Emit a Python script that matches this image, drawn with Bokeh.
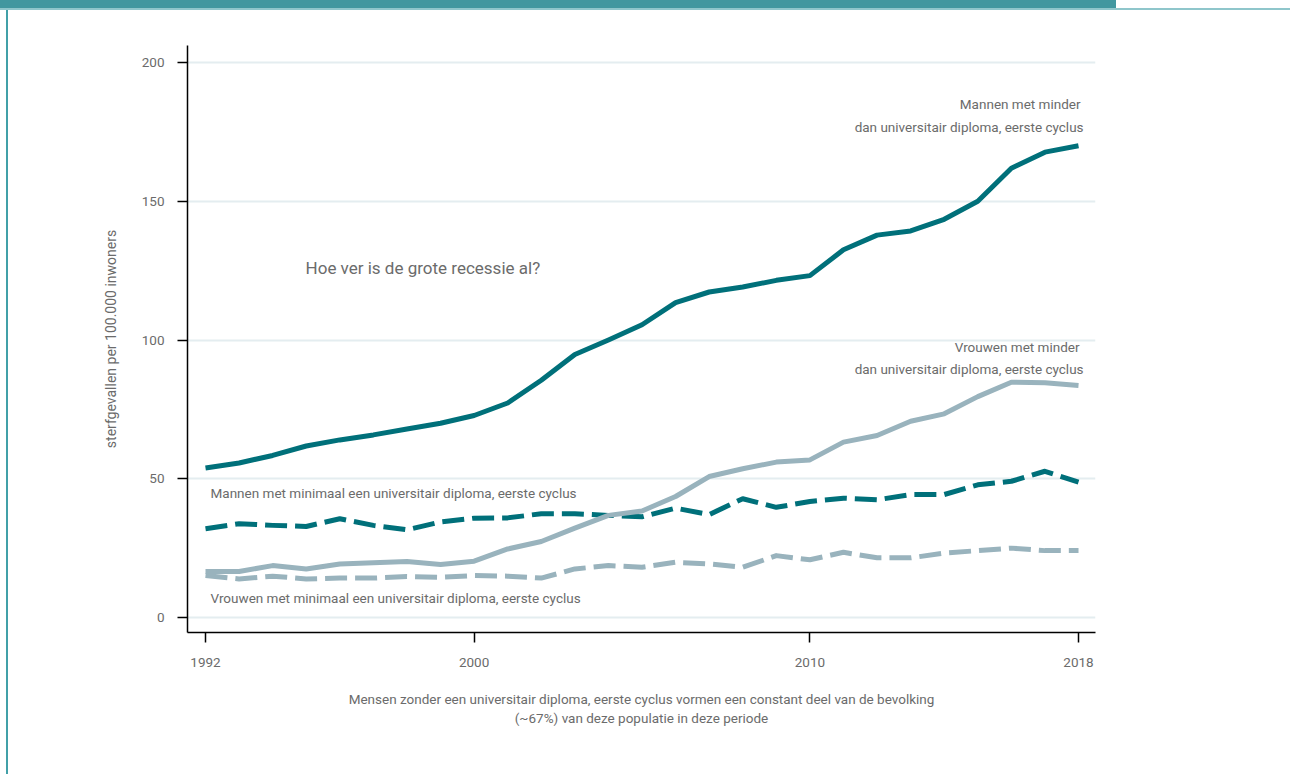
from bokeh.plotting import figure
from bokeh.models import Range1d, FixedTicker, Label
from bokeh.embed import file_html
from bokeh.resources import INLINE

years = list(range(1992, 2019))
men_low = [53.9, 55.7, 58.4, 61.8, 64.0, 65.8, 67.9, 70.0, 72.8, 77.3, 85.5, 94.8, 100.0, 105.5,
           113.5, 117.3, 119.1, 121.5, 123.2, 132.5, 137.8, 139.3, 143.5, 150.0, 161.9, 167.7, 170.0]
men_high = [32.0, 33.8, 33.2, 32.8, 35.6, 33.2, 31.6, 34.4, 35.8, 35.9, 37.4, 37.4, 36.8, 36.3,
            39.4, 37.1, 42.8, 39.7, 41.8, 43.0, 42.4, 44.3, 44.3, 47.8, 49.1, 52.7, 48.8]
women_low = [16.6, 16.6, 18.7, 17.5, 19.3, 19.7, 20.2, 19.1, 20.3, 24.7, 27.4, 32.2, 36.8, 38.4,
             43.6, 50.8, 53.6, 56.0, 56.8, 63.2, 65.6, 70.7, 73.4, 79.6, 84.8, 84.6, 83.6]
women_high = [15.1, 13.9, 14.9, 13.9, 14.2, 14.2, 14.8, 14.5, 15.1, 14.9, 14.2, 17.5, 18.7, 18.1,
              19.9, 19.3, 18.1, 22.3, 20.8, 23.5, 21.5, 21.5, 23.2, 24.1, 25.0, 24.1, 24.1]
x_ticks = [1992, 2000, 2010, 2018]
y_ticks = [0, 50, 100, 150, 200]

TEAL = "#00707a"
GREY = "#99b3bd"
TXT = "#6b6b6b"
FONT = "Roboto"

deco = ("linear-gradient(#41979f,#41979f) 0 0/1116px 8px no-repeat, "
        "linear-gradient(#8fc6cb,#8fc6cb) 0 8px/100% 2px no-repeat, "
        "linear-gradient(#41a0a8,#41a0a8) 6px 8px/2px 100% no-repeat, #ffffff")

p = figure(width=1290, height=774, output_backend="svg", toolbar_location=None,
           x_range=Range1d(1991.464, 2018.506), y_range=Range1d(-5.405, 206.13),
           min_border_left=187, min_border_top=45, min_border_right=195, min_border_bottom=142,
           styles={"background": deco})
p.outline_line_color = None
p.background_fill_color = "white"
p.border_fill_color = None
p.xgrid.grid_line_color = None
p.ygrid.grid_line_color = "#e4edf0"
p.ygrid.grid_line_width = 2

p.xaxis.ticker = FixedTicker(ticks=x_ticks)
p.yaxis.ticker = FixedTicker(ticks=y_ticks)
for ax in (p.xaxis, p.yaxis):
    ax.axis_line_color = "black"
    ax.axis_line_width = 1.5
    ax.major_tick_line_color = "black"
    ax.major_tick_line_width = 1.5
    ax.major_tick_out = 10
    ax.major_tick_in = 0
    ax.minor_tick_line_color = None
    ax.major_label_text_color = TXT
    ax.major_label_text_font = FONT
    ax.major_label_text_font_size = "13.5px"
    ax.axis_label_text_color = TXT
    ax.axis_label_text_font = FONT
    ax.axis_label_text_font_style = "normal"
p.xaxis.major_label_standoff = 15
p.yaxis.major_label_standoff = 13
p.yaxis.axis_label = "sterfgevallen per 100.000 inwoners"
p.yaxis.axis_label_text_font_size = "14px"
p.yaxis.axis_label_standoff = 20
p.xaxis.axis_label = ("Mensen zonder een universitair diploma, eerste cyclus vormen een constant deel van de bevolking\n"
                      "(~67%) van deze populatie in deze periode")
p.xaxis.axis_label_text_font_size = "13.5px"
p.xaxis.axis_label_standoff = 21

p.line(years, women_high, line_color=GREY, line_width=5, line_dash="22 8", line_join="round")
p.line(years, men_high, line_color=TEAL, line_width=5, line_dash="22 8", line_join="round")
p.line(years, women_low, line_color=GREY, line_width=5, line_join="round")
p.line(years, men_low, line_color=TEAL, line_width=5, line_join="round")

def lab(x, y, text, align="left", size="13.5px"):
    p.add_layout(Label(x=x, y=y, text=text, text_align=align, text_baseline="middle",
                       text_font=FONT, text_font_size=size, text_color=TXT))

lab(1994.98, 125.8, "Hoe ver is de grote recessie al?", size="17px")
lab(1992.15, 44.7, "Mannen met minimaal een universitair diploma, eerste cyclus")
lab(1992.15, 7.2, "Vrouwen met minimaal een universitair diploma, eerste cyclus")
lab(2018.06, 184.9, "Mannen met minder", align="right")
lab(2018.15, 176.9, "dan universitair diploma, eerste cyclus", align="right")
lab(2018.03, 97.3, "Vrouwen met minder", align="right")
lab(2018.15, 89.4, "dan universitair diploma, eerste cyclus", align="right")

open("out.html", "w").write(file_html(p, INLINE))
